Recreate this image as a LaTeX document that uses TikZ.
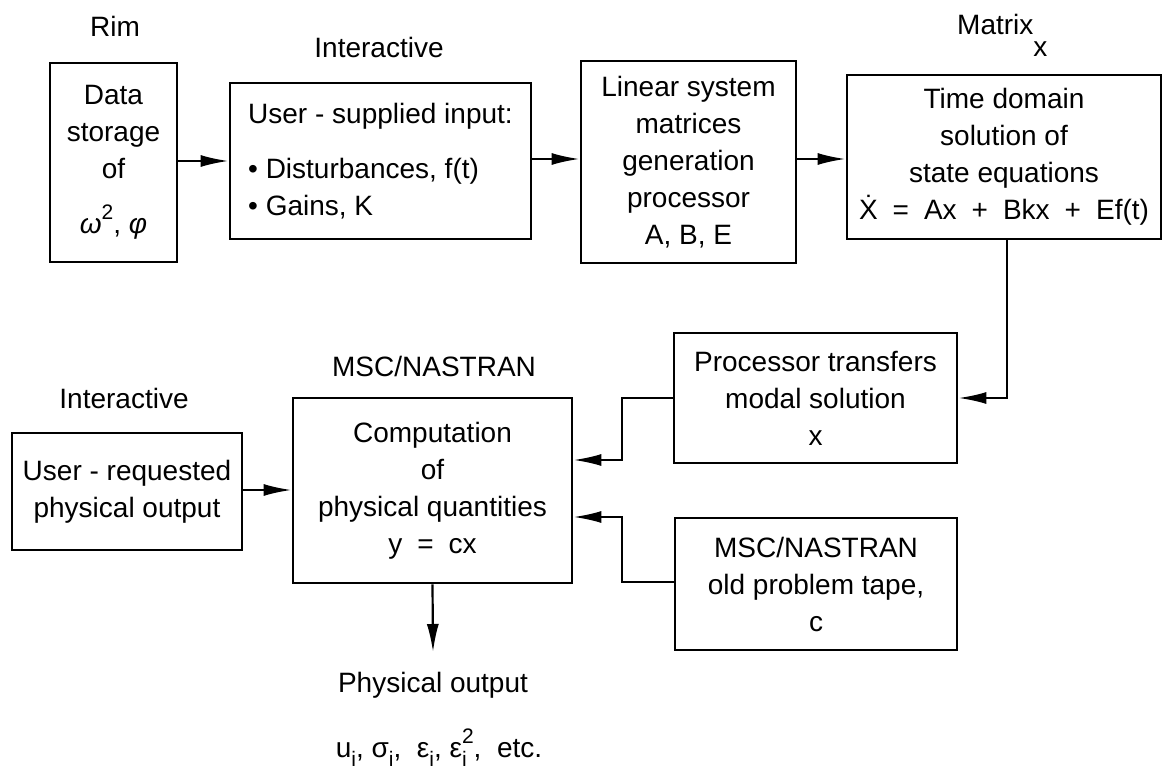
\documentclass[tikz,border=0pt]{standalone}
\usepackage{fontspec}
\setmainfont{Liberation Sans}
\usetikzlibrary{arrows.meta}
\newcommand\mysub[1]{\raisebox{-9pt}{\fontsize{21}{21}\selectfont #1}}
\newcommand\mysup[1]{\raisebox{14pt}{\fontsize{21}{21}\selectfont #1}}
\newcommand\gapp{\hspace{15pt}}
\begin{document}
\begin{tikzpicture}[x=1pt,y=-1pt,
  box/.style={draw, line width=2.8pt, align=center, inner sep=0pt, font=\fontsize{28}{37}\selectfont},
  lbl/.style={inner sep=0pt, anchor=base, font=\fontsize{28}{37}\selectfont},
  arr/.style={line width=2.2pt, -{Latex[length=28pt,width=12pt]}},
  con/.style={line width=2.2pt}]
\useasboundingbox[fill=white] (0,0) rectangle (1164,775);

% labels
\node[lbl] (lrim) at (115,37) {Rim};
\node[lbl] (lint1) at (379,58) {Interactive};
\node[lbl, anchor=base west] (lmat) at (957,35) {Matrix\raisebox{-22pt}{x}};
\node[lbl] (lmsc) at (434,376) {MSC/NASTRAN};
\node[lbl] (lint2) at (124,408) {Interactive};

% boxes
\node[box, minimum width=127pt, minimum height=199pt] (b1) at (113.5,162.5)
  {Data\\storage\\of\\[18pt]{\itshape ω}\mysup{2}, {\itshape φ}};
\node[box, minimum width=301pt, minimum height=156pt, align=left] (b2) at (380.5,161)
  {User - supplied input:\\[18pt]• Disturbances, f(t)\\• Gains, K};
\node[box, minimum width=215pt, minimum height=202pt] (b3) at (688.5,162)
  {Linear system\\matrices\\generation\\processor\\A, B, E};
\node[box, minimum width=314pt, minimum height=164pt] (b4) at (1004,157)
  {Time domain\\solution of\\state equations\\\.{X}\gapp=\gapp Ax\gapp+\gapp Bkx\gapp+\gapp Ef(t)};
\node[box, minimum width=283pt, minimum height=130pt] (b5) at (815.5,398)
  {Processor transfers\\modal solution\\x};
\node[box, minimum width=282pt, minimum height=132pt] (b6) at (816,584)
  {MSC/NASTRAN\\old problem tape,\\c};
\node[box, minimum width=230pt, minimum height=117pt] (b7) at (127,491.5)
  {User - requested\\physical output};
\node[box, minimum width=279pt, minimum height=185pt] (b8) at (432.5,490.5)
  {Computation\\of\\physical quantities\\y\gapp=\gapp cx};

% output texts
\node[lbl] (phys) at (433,692) {Physical output};
\node[lbl] (form) at (439,757)
  {u\mysub{i}, σ\mysub{i}, \ ε\mysub{i}, ε\rlap{\mysub{i}}\mysup{2}, \ etc.};

% junction coordinates
\coordinate (p1) at (622,398);
\coordinate (p2) at (622,460);
\coordinate (p3) at (622,582);
\coordinate (p4) at (622,517);
\coordinate (po) at (433,652);

% connectors
\draw[arr] (b1.east |- 0,161) -- (b2.west |- 0,161);
\draw[arr] (b2.east |- 0,159) -- (b3.west |- 0,159);
\draw[arr] (b3.east |- 0,159) -- (b4.west |- 0,159);
\draw[arr] (b4.south -| 1007,0) |- (b5.east);
\draw[arr] (b5.west) -- (p1) -- (p2) -- (b8.east |- p2);
\draw[arr] (b6.west |- p3) -- (p3) -- (p4) -- (b8.east |- p4);
\draw[arr] (b7.east |- 0,490) -- (b8.west |- 0,490);
\draw[arr] (b8.south) -- (po);
\end{tikzpicture}
\end{document}
